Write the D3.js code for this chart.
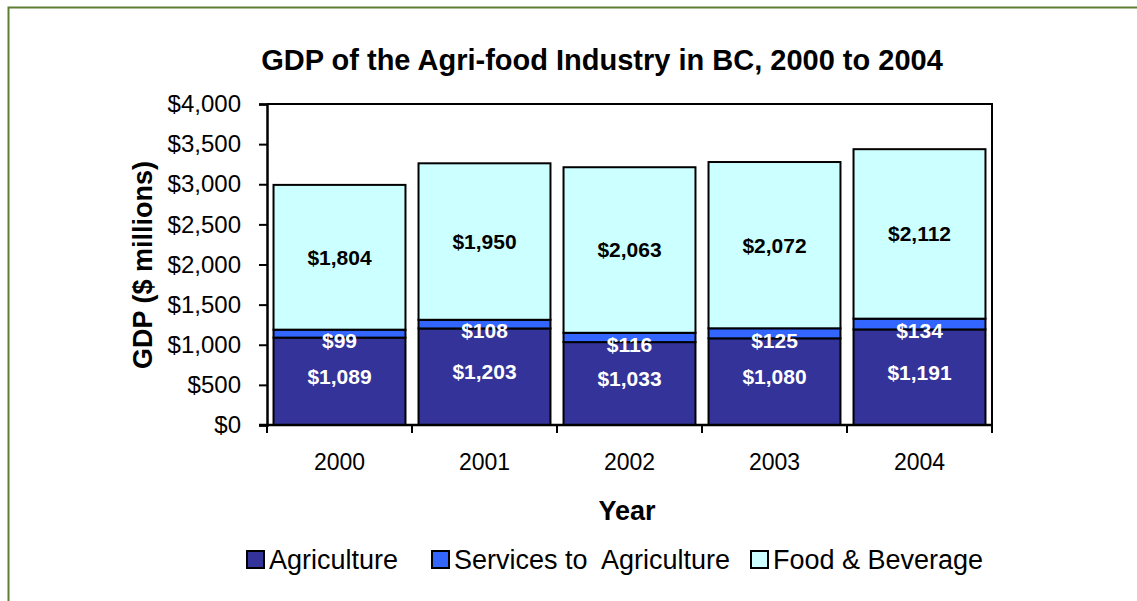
<!DOCTYPE html>
<html><head><meta charset="utf-8">
<script src="https://cdn.jsdelivr.net/npm/d3@7"></script>
<style>html,body{margin:0;padding:0;background:#fff}svg{display:block;font-family:Arial,"Liberation Sans",sans-serif}</style>
</head><body><svg id="c" width="1137" height="601"></svg>
<script>
const years = ["2000","2001","2002","2003","2004"];
const agriculture = [1089,1203,1033,1080,1191];
const services = [99,108,116,125,134];
const foodBev = [1804,1950,2063,2072,2112];
const seriesNames = ["Agriculture","Services to  Agriculture","Food & Beverage"];
const seriesColors = ["#333399","#3366FF","#CCFFFF"];
const yTicks = [0,500,1000,1500,2000,2500,3000,3500,4000];

const svg = d3.select("#c");
// outer frame
svg.append("path").attr("d","M8.5,601 L8.5,7.5 L1137,7.5").attr("fill","none").attr("stroke","#5E7E32").attr("stroke-width",2);

const L=267, R=992, T=104, B=425;
const x = d3.scaleBand().domain(years).range([L,R]).paddingInner(0.09).paddingOuter(0.045);
const y = d3.scaleLinear().domain([0,4000]).range([B,T]);

const table = years.map((yr,i)=>({year:yr, a:agriculture[i], s:services[i], f:foodBev[i]}));
const stack = d3.stack().keys(["a","s","f"])(table);

// plot frame (top and right)
svg.append("path").attr("d",`M${L},${T} L${R},${T} L${R},${B}`).attr("fill","none").attr("stroke","#000").attr("stroke-width",2);

stack.forEach((layer,li)=>{
  svg.append("g").selectAll("rect").data(layer).join("rect")
    .attr("x",d=>x(d.data.year)).attr("width",x.bandwidth())
    .attr("y",d=>y(d[1])).attr("height",d=>y(d[0])-y(d[1]))
    .attr("fill",seriesColors[li]).attr("stroke","#000").attr("stroke-width",2);
});

// y axis
const yAxis = d3.axisLeft(y).tickValues(yTicks).tickFormat(d=>"$"+d3.format(",")(d)).tickSize(8).tickPadding(18);
const gy = svg.append("g").attr("transform",`translate(${L},0)`).call(yAxis);
gy.select(".domain").attr("stroke","#000").attr("stroke-width",2.5);
gy.selectAll(".tick line").attr("stroke","#000").attr("stroke-width",2);
gy.selectAll("text").attr("font-size",24).attr("fill","#000").attr("font-family","Arial,'Liberation Sans',sans-serif");

// x axis
const gx = svg.append("g").attr("transform",`translate(0,${B})`);
gx.append("line").attr("x1",L-8).attr("x2",R).attr("y1",0).attr("y2",0).attr("stroke","#000").attr("stroke-width",2.5);
const step = x.step();
const bounds = d3.range(years.length+1).map(i=> i===0?L:(i===years.length?R:x(years[i])-x.paddingInner()*step/2));
gx.selectAll("line.t").data(bounds).join("line").attr("class","t")
  .attr("x1",d=>d).attr("x2",d=>d).attr("y1",0).attr("y2",8).attr("stroke","#000").attr("stroke-width",2);
gx.selectAll("text").data(years).join("text")
  .attr("x",d=>x(d)+x.bandwidth()/2).attr("y",45).attr("text-anchor","middle")
  .attr("font-size",23).attr("fill","#000").text(d=>d);

// data labels
const fmt = d=>"$"+d3.format(",")(d);
const lblOffsets=[-5,7,0];
const lblColors=["#fff","#fff","#000"];
stack.forEach((layer,li)=>{
  svg.append("g").selectAll("text").data(layer).join("text")
    .attr("x",d=>x(d.data.year)+x.bandwidth()/2)
    .attr("y",d=>(y(d[0])+y(d[1]))/2+lblOffsets[li])
    .attr("dy","0.35em").attr("text-anchor","middle")
    .attr("font-size",21).attr("font-weight","bold").attr("fill",lblColors[li])
    .text(d=>fmt(d[1]-d[0]));
});

// titles
svg.append("text").attr("x",602).attr("y",70).attr("text-anchor","middle").attr("font-size",29).attr("font-weight","bold").text("GDP of the Agri-food Industry in BC, 2000 to 2004");
svg.append("text").attr("transform","translate(152,265) rotate(-90)").attr("text-anchor","middle").attr("font-size",27).attr("font-weight","bold").text("GDP ($ millions)");
svg.append("text").attr("x",627).attr("y",520).attr("text-anchor","middle").attr("font-size",27).attr("font-weight","bold").text("Year");

// legend
const legX=[247,432,751];
const lg = svg.append("g");
seriesNames.forEach((n,i)=>{
  lg.append("rect").attr("x",legX[i]).attr("y",551).attr("width",17).attr("height",17).attr("fill",seriesColors[i]).attr("stroke","#000").attr("stroke-width",2);
  lg.append("text").attr("x",legX[i]+22).attr("y",569).attr("font-size",27).attr("fill","#000").attr("xml:space","preserve").style("white-space","pre").text(n);
});
</script></body></html>
